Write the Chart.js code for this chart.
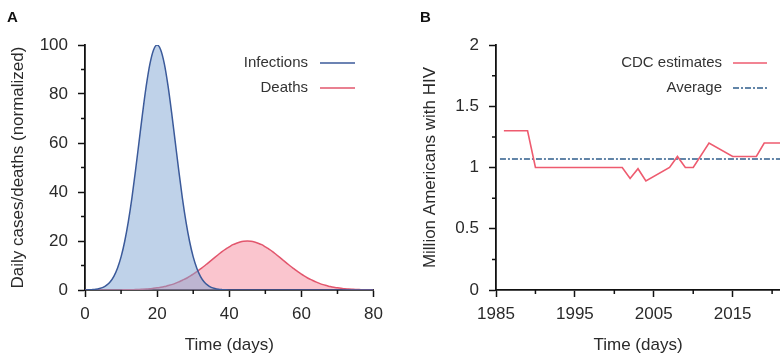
<!DOCTYPE html>
<html lang="en">
<head>
  <meta charset="UTF-8" />
  <title>Epidemic curves | HIV estimates</title>
  <script src="https://cdn.jsdelivr.net/npm/chart.js"></script>
  <style>
    body { margin: 0; background: #fff; }
    .wrap { display: flex; width: 780px; height: 356px; }
  </style>
</head>
<body>
  <div class="wrap">
    <canvas id="chartA" width="390" height="356"></canvas>
    <canvas id="chartB" width="390" height="356"></canvas>
  </div>

  <script>
    // ---- panel A data (normalized daily counts) ----
    const DAYS = [0, 1, 2, 3, 4, 5, 6, 7, 8, 9, 10, 11, 12, 13, 14, 15, 16, 17, 18, 19,
      20, 21, 22, 23, 24, 25, 26, 27, 28, 29, 30, 31, 32, 33, 34, 35, 36, 37, 38, 39,
      40, 41, 42, 43, 44, 45, 46, 47, 48, 49, 50, 51, 52, 53, 54, 55, 56, 57, 58, 59,
      60, 61, 62, 63, 64, 65, 66, 67, 68, 69, 70, 71, 72, 73, 74, 75, 76, 77, 78, 79, 80];
    const INFECTIONS = [0.03, 0.07, 0.15, 0.3, 0.6, 1.1, 2.0, 3.4, 5.6, 8.9,
      13.5, 19.8, 27.8, 37.5, 48.7, 60.7, 72.6, 83.5, 92.3, 98.0,
      100, 98.0, 92.3, 83.5, 72.6, 60.7, 48.7, 37.5, 27.8, 19.8,
      13.5, 8.9, 5.6, 3.4, 2.0, 1.1, 0.6, 0.3, 0.15, 0.07,
      0.03, 0, 0, 0, 0, 0, 0, 0, 0, 0,
      0, 0, 0, 0, 0, 0, 0, 0, 0, 0,
      0, 0, 0, 0, 0, 0, 0, 0, 0, 0,
      0, 0, 0, 0, 0, 0, 0, 0, 0, 0, 0];
    const DEATHS = [0, 0, 0, 0, 0, 0, 0, 0, 0, 0,
      0.04, 0.06, 0.09, 0.12, 0.17, 0.2, 0.3, 0.4, 0.5, 0.7,
      0.9, 1.1, 1.4, 1.8, 2.2, 2.7, 3.3, 4.0, 4.7, 5.6,
      6.5, 7.5, 8.6, 9.7, 10.9, 12.1, 13.3, 14.5, 15.7, 16.7,
      17.6, 18.5, 19.1, 19.6, 19.9, 20, 19.9, 19.6, 19.1, 18.5,
      17.6, 16.7, 15.7, 14.5, 13.3, 12.1, 10.9, 9.7, 8.6, 7.5,
      6.5, 5.6, 4.7, 4.0, 3.3, 2.7, 2.2, 1.8, 1.4, 1.1,
      0.9, 0.7, 0.5, 0.4, 0.3, 0.2, 0.17, 0.12, 0.09, 0.06, 0.04];

    // ---- panel B data (million Americans with HIV) ----
    const YEARS = [1986, 1989, 1990, 2001, 2002, 2003, 2004, 2007, 2008, 2009, 2010, 2012, 2015, 2018, 2019, 2021];
    const CDC_ESTIMATES = [1.3, 1.3, 1.0, 1.0, 0.91, 0.99, 0.89, 1.0, 1.09, 1.0, 1.0, 1.2, 1.09, 1.09, 1.2, 1.2];
    const AVG_YEARS = [1985.5, 2021];
    const AVERAGE = [1.07, 1.07];

    // ---- ticks ----
    const A_X_MAJOR = [0, 20, 40, 60, 80];
    const A_X_MINOR = [10, 30, 50, 70];
    const A_Y_MAJOR = [0, 20, 40, 60, 80, 100];
    const A_Y_MINOR = [10, 30, 50, 70, 90];
    const B_X_MAJOR = [1985, 1995, 2005, 2015];
    const B_X_MINOR = [1990, 2000, 2010, 2020];
    const B_Y_MAJOR = [0, 0.5, 1, 1.5, 2];
    const B_Y_MINOR = [0.25, 0.75, 1.25, 1.75];

    const FONT = '"Liberation Sans", Arial, Helvetica, sans-serif';
    Chart.defaults.font.family = FONT;
    Chart.defaults.font.size = 17;
    Chart.defaults.color = '#2a2a2a';

    const pairs = (xs, ys) => xs.map((x, i) => ({ x, y: ys[i] }));

    // short minor ticks, drawn through the scales
    const minorTicks = {
      id: 'minorTicks',
      afterDraw(chart, args, opts) {
        const { ctx, scales } = chart;
        ctx.save();
        ctx.strokeStyle = '#111';
        ctx.lineWidth = 1.5;
        ctx.beginPath();
        (opts.x || []).forEach(v => {
          const px = scales.x.getPixelForValue(v);
          ctx.moveTo(px, scales.x.top);
          ctx.lineTo(px, scales.x.top + 4);
        });
        (opts.y || []).forEach(v => {
          const py = scales.y.getPixelForValue(v);
          ctx.moveTo(scales.y.right, py);
          ctx.lineTo(scales.y.right - 4, py);
        });
        ctx.stroke();
        ctx.restore();
      }
    };

    // panel letter + legend with the swatch on the right of the text
    const panelLegend = {
      id: 'panelLegend',
      afterDraw(chart, args, opts) {
        const ctx = chart.ctx;
        ctx.save();
        ctx.textBaseline = 'middle';
        ctx.fillStyle = '#111';
        ctx.font = 'bold 15px ' + FONT;
        ctx.textAlign = 'left';
        ctx.fillText(opts.panel, opts.panelX, opts.panelY);

        ctx.font = '15px ' + FONT;
        chart.data.datasets.forEach((ds, i) => {
          const y = opts.rowY[i];
          ctx.textAlign = 'right';
          ctx.fillStyle = '#333';
          ctx.fillText(ds.label, opts.textRight, y);
          ctx.strokeStyle = ds.borderColor;
          ctx.lineWidth = 1.6;
          ctx.setLineDash(ds.borderDash || []);
          ctx.beginPath();
          ctx.moveTo(opts.lineFrom, y);
          ctx.lineTo(opts.lineTo, y);
          ctx.stroke();
        });
        ctx.restore();
      }
    };

    function axis(min, max, major, opts) {
      return {
        type: 'linear',
        min, max,
        z: 1,
        afterBuildTicks: s => { s.ticks = major.map(v => ({ value: v })); },
        afterFit: opts.fit,
        grid: { drawOnChartArea: false, drawTicks: true, tickLength: 7, tickWidth: 1.5, tickColor: '#111' },
        border: { display: true, color: '#111', width: 1.8 },
        ticks: { padding: opts.pad, callback: v => String(v), color: '#2a2a2a' },
        title: { display: true, text: opts.title, color: '#2a2a2a', padding: opts.titlePad }
      };
    }

    new Chart(document.getElementById('chartA'), {
      type: 'line',
      data: {
        datasets: [
          {
            label: 'Infections',
            data: pairs(DAYS, INFECTIONS),
            borderColor: '#3b5a9a',
            backgroundColor: 'rgba(128, 165, 212, 0.5)',
            borderWidth: 1.5,
            fill: 'origin',
            pointRadius: 0,
            cubicInterpolationMode: 'monotone'
          },
          {
            label: 'Deaths',
            data: pairs(DAYS, DEATHS),
            borderColor: '#e2566d',
            backgroundColor: 'rgba(240, 90, 115, 0.35)',
            borderWidth: 1.5,
            fill: 'origin',
            pointRadius: 0,
            cubicInterpolationMode: 'monotone'
          }
        ]
      },
      options: {
        responsive: false,
        animation: false,
        layout: { padding: { top: 45, right: 15, left: 0, bottom: 0 } },
        scales: {
          x: axis(0, 80, A_X_MAJOR, {
            title: 'Time (days)', pad: 7, titlePad: { top: 0, bottom: 0 },
            fit: s => { s.height = 66; }
          }),
          y: axis(0, 100, A_Y_MAJOR, {
            title: 'Daily cases/deaths (normalized)', pad: 10, titlePad: { top: 8, bottom: 0 },
            fit: s => { s.width = 85; }
          })
        },
        plugins: {
          legend: { display: false },
          tooltip: { enabled: false },
          minorTicks: { x: A_X_MINOR, y: A_Y_MINOR },
          panelLegend: { panel: 'A', panelX: 7, panelY: 18, rowY: [63, 88], textRight: 308, lineFrom: 320, lineTo: 355 }
        }
      },
      plugins: [minorTicks, panelLegend]
    });

    new Chart(document.getElementById('chartB'), {
      type: 'line',
      data: {
        datasets: [
          {
            label: 'CDC estimates',
            data: pairs(YEARS, CDC_ESTIMATES),
            borderColor: '#ee5b6f',
            borderWidth: 1.6,
            fill: false,
            pointRadius: 0,
            tension: 0
          },
          {
            label: 'Average',
            data: pairs(AVG_YEARS, AVERAGE),
            borderColor: '#2f5d8c',
            borderWidth: 1.5,
            borderDash: [6, 2, 2, 2],
            fill: false,
            pointRadius: 0
          }
        ]
      },
      options: {
        responsive: false,
        animation: false,
        layout: { padding: { top: 45, right: 0, left: 0, bottom: 0 } },
        scales: {
          x: axis(1985, 2021, B_X_MAJOR, {
            title: 'Time (days)', pad: 7, titlePad: { top: 0, bottom: 0 },
            fit: s => { s.height = 66; }
          }),
          y: axis(0, 2, B_Y_MAJOR, {
            title: 'Million Americans with HIV', pad: 10, titlePad: { top: 30, bottom: 0 },
            fit: s => { s.width = 106; }
          })
        },
        plugins: {
          legend: { display: false },
          tooltip: { enabled: false },
          minorTicks: { x: B_X_MINOR, y: B_Y_MINOR },
          panelLegend: { panel: 'B', panelX: 30, panelY: 18, rowY: [63, 88], textRight: 332, lineFrom: 343, lineTo: 377 }
        }
      },
      plugins: [minorTicks, panelLegend]
    });
  </script>
</body>
</html>
